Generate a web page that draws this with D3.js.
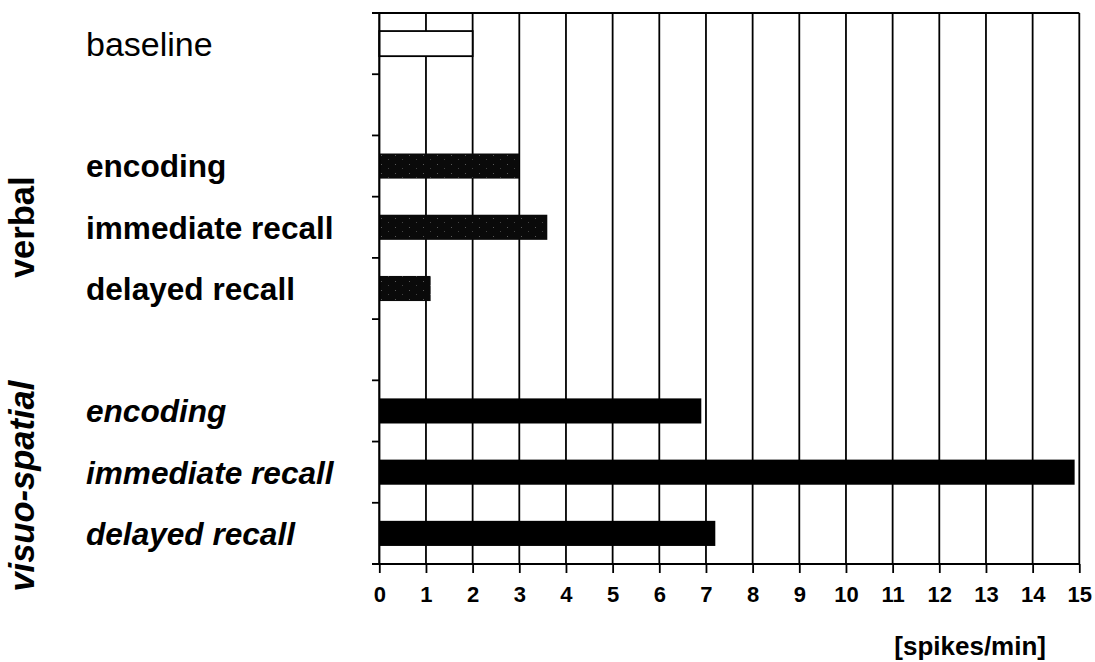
<!DOCTYPE html>
<html><head><meta charset="utf-8">
<script src="https://cdn.jsdelivr.net/npm/d3@7"></script>
<style>body{margin:0;background:#fff}svg{display:block}text{font-family:"Liberation Sans",Arial,Helvetica,sans-serif;fill:#000}</style>
</head><body>
<script>
const categories = ["baseline","gap1","v_enc","v_imm","v_del","gap2","s_enc","s_imm","s_del"];
const labels = ["baseline","","encoding","immediate recall","delayed recall","","encoding","immediate recall","delayed recall"];
const values = [2, null, 3.0, 3.6, 1.1, null, 6.9, 14.9, 7.2];
const groups = ["base","", "verbal","verbal","verbal","", "visuo","visuo","visuo"];
const xTicks = d3.range(0, 16);
const groupLabels = [{text:"verbal", from:"v_enc", to:"v_del", italic:false},
                     {text:"visuo-spatial", from:"s_enc", to:"s_del", italic:true}];

(function(){
const W = 1095, H = 662;
const svg = d3.select("body").append("svg").attr("width", W).attr("height", H);
const defs = svg.append("defs");
const pat = defs.append("pattern").attr("id","speckle").attr("patternUnits","userSpaceOnUse").attr("width",14).attr("height",9);
pat.append("rect").attr("width",14).attr("height",9).attr("fill","#0a0a0a");
pat.append("rect").attr("x",3).attr("y",2).attr("width",1).attr("height",1).attr("fill","#5a5a5a");
pat.append("rect").attr("x",10).attr("y",6).attr("width",1).attr("height",1).attr("fill","#444");

const x = d3.scaleLinear().domain([0, 15]).range([379.3, 1079.3]);
const y = d3.scaleBand().domain(categories).range([13, 564]).paddingInner(0.59).paddingOuter(0.295);
const step = y.step();
const yTop = 13, yBottom = 564;

// grid lines
svg.append("g").selectAll("line").data(xTicks.filter(d => d > 0)).join("line")
  .attr("x1", d => x(d)).attr("x2", d => x(d)).attr("y1", yTop).attr("y2", yBottom)
  .attr("stroke", "#000").attr("stroke-width", 1.8);

// bars
const data = categories.map((c, i) => ({c, v: values[i], g: groups[i], label: labels[i]}));
svg.append("g").selectAll("rect").data(data.filter(d => d.v != null)).join("rect")
  .attr("x", x(0)).attr("y", d => y(d.c))
  .attr("width", d => x(d.v) - x(0)).attr("height", y.bandwidth())
  .attr("fill", d => d.g === "base" ? "#fff" : d.g === "verbal" ? "url(#speckle)" : "#000")
  .attr("stroke", d => d.g === "base" ? "#000" : "none")
  .attr("stroke-width", 1.8);

// top line
svg.append("line").attr("x1", 372).attr("x2", x(15)).attr("y1", yTop).attr("y2", yTop)
  .attr("stroke","#000").attr("stroke-width",2);

// x axis
const xAxis = d3.axisBottom(x).tickValues(xTicks).tickSize(9).tickPadding(9).tickSizeOuter(0);
const gx = svg.append("g").attr("transform", `translate(0,${yBottom})`).call(xAxis);
gx.select(".domain").remove();
gx.append("line").attr("x1", 372).attr("x2", x(15)).attr("stroke","#000").attr("stroke-width",2.2);
gx.selectAll(".tick line").attr("stroke","#000").attr("stroke-width",1.8);
gx.selectAll(".tick text").attr("font-size", 22).attr("font-weight","bold").attr("fill","#000")
  .attr("font-family", '"Liberation Sans",Arial,sans-serif').attr("dy","0.9em");

// y axis line + ticks at band boundaries
svg.append("line").attr("x1", x(0)).attr("x2", x(0)).attr("y1", yTop).attr("y2", yBottom)
  .attr("stroke","#000").attr("stroke-width",2.2);
const bounds = d3.range(1, categories.length).map(i => y(categories[i]) - y.paddingInner() * step / 2);
svg.append("g").selectAll("line").data(bounds).join("line")
  .attr("x1", 372).attr("x2", x(0)).attr("y1", d => d).attr("y2", d => d)
  .attr("stroke","#000").attr("stroke-width",1.8);

// category labels
svg.append("g").selectAll("text").data(data.filter(d => d.label)).join("text")
  .attr("x", 86).attr("y", d => y(d.c) + y.bandwidth() / 2).attr("dy", "0.36em")
  .attr("font-size", d => d.g === "base" ? 34 : 31.6)
  .attr("font-weight", d => d.g === "base" ? "normal" : "bold")
  .attr("font-style", d => d.g === "visuo" ? "italic" : "normal")
  .text(d => d.label);

// group labels (rotated)
const groupShift = {"verbal": 0, "visuo-spatial": 14};
svg.append("g").selectAll("text").data(groupLabels).join("text")
  .attr("transform", d => {
    const cy = (y(d.from) + y(d.to) + y.bandwidth()) / 2 + groupShift[d.text];
    return `translate(34,${cy}) rotate(-90)`;
  })
  .attr("text-anchor", "middle")
  .attr("font-size", 34.5).attr("font-weight", "bold")
  .attr("font-style", d => d.italic ? "italic" : "normal")
  .text(d => d.text);

// unit label
svg.append("text").attr("x", 1046).attr("y", 655).attr("text-anchor","end")
  .attr("font-size", 26).attr("font-weight","bold").text("[spikes/min]");
})();
</script>
</body></html>
